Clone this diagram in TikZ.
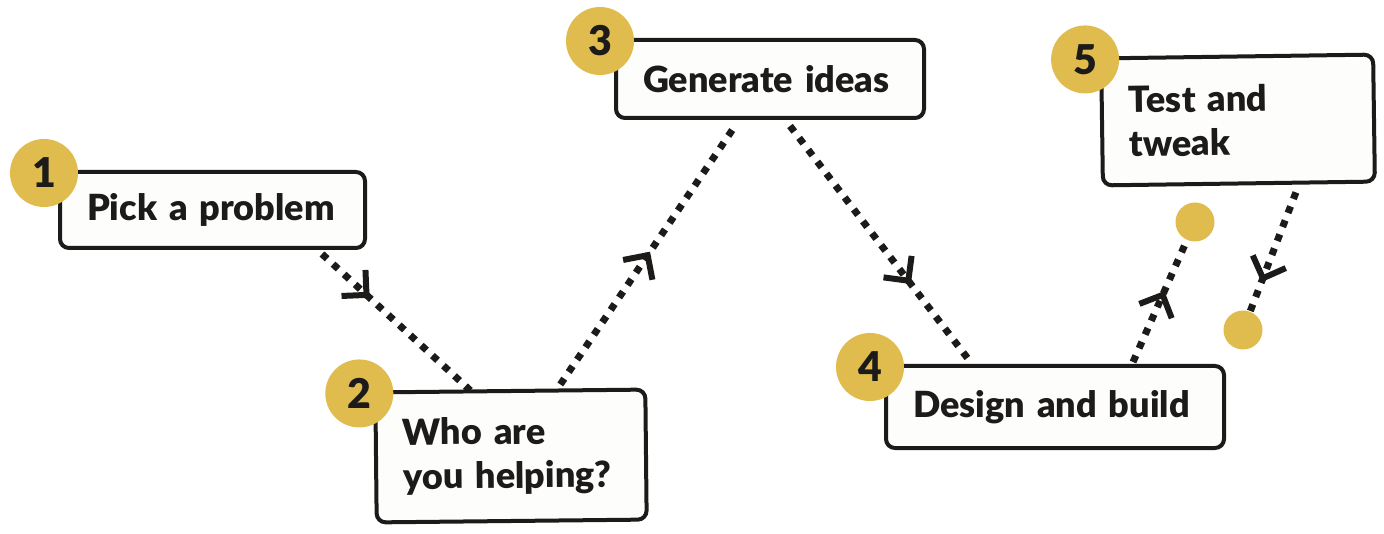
\documentclass[tikz,border=0pt]{standalone}
\usepackage{fontspec}
\setmainfont{Lato}[BoldFont={Lato Black}]
\usetikzlibrary{calc,backgrounds}
\definecolor{cGold}{HTML}{E0BC4E}
\definecolor{cInk}{HTML}{1C1B1A}
\definecolor{cPaper}{HTML}{FDFDFB}
\tikzset{
  font=\bfseries\fontsize{36}{44}\selectfont,
  stage/.style={draw=cInk, fill=cPaper, line width=4pt, rounded corners=9pt,
                align=left, inner xsep=27pt, inner ysep=0pt, text=cInk},
  badge/.style={circle, fill=cGold, minimum size=68pt, inner sep=0pt, text=cInk,
                font=\bfseries\fontsize{41}{41}\selectfont},
  spot/.style={circle, fill=cGold, minimum size=39pt, inner sep=0pt},
  flow/.style={draw=cInk, line width=7pt, dash pattern=on 7pt off 8pt},
  chevron/.style={draw=cInk, solid, line width=6pt, line join=miter, line cap=butt},
}
% open chevron on the way from #1 to #2, its tip at fraction #3
\newcommand\chev[3]{%
  \draw[chevron] ($($(#1)!#3!(#2)$)!25pt!45:(#1)$) -- ($(#1)!#3!(#2)$)
                 -- ($($(#1)!#3!(#2)$)!25pt!-45:(#1)$);}

\begin{document}
\begin{tikzpicture}[x=1pt, y=-1pt]
\useasboundingbox (0,0) rectangle (1384,534);

% ------------------------------------------------------------------ stages
\node[stage, anchor=north west, text width=251pt, minimum height=76pt] (pick) at (58,170) {Pick a problem};
\node[stage, text width=216pt, minimum height=130pt, rotate=0.6] (who) at (511,456) {Who are\\you helping?};
\node[stage, anchor=north west, text width=254pt, minimum height=78pt] (ideas) at (614,38) {Generate ideas};
\node[stage, anchor=north west, text width=284pt, minimum height=82pt] (build) at (884,364) {Design and build};
\node[stage, text width=218pt, minimum height=127pt, rotate=0.8] (tweak) at (1238,120) {Test and\\tweak};

% numbers on the corners
\node[badge] (n1) at ([xshift=-14pt, yshift=-3pt]pick.north west)  {1};
\node[badge] (n2) at ([xshift=-14pt, yshift=-3pt]who.north west)   {2};
\node[badge] (n3) at ([xshift=-14pt, yshift=-3pt]ideas.north west) {3};
\node[badge] (n4) at ([xshift=-14pt, yshift=-3pt]build.north west) {4};
\node[badge] (n5) at ([xshift=-14pt, yshift=-3pt]tweak.north west) {5};

% loose ends of the test loop
\node[spot] (dotA) at (1195,222) {};
\node[spot] (dotB) at (1243,330) {};

% ------------------------------------------------------------------ connectors
\coordinate (a1) at ([xshift=-45pt, yshift=-4pt]pick.south east);
\coordinate (a2) at ([xshift=97pt]who.north west);
\coordinate (b1) at ([xshift=187pt, yshift=6pt]who.north west);
\coordinate (b2) at ([xshift=121pt, yshift=-6pt]ideas.south west);
\coordinate (c1) at ([xshift=176pt, yshift=-6pt]ideas.south west);
\coordinate (c2) at ([xshift=88pt]build.north west);
\coordinate (d1) at ([xshift=249pt, yshift=2pt]build.north west);
\coordinate (d2) at (dotA.246);
\coordinate (e1) at ([xshift=195pt, yshift=-5pt]tweak.south west);
\coordinate (e2) at (dotB.69);

\begin{scope}[on background layer]
  \draw[flow] (a1) -- (a2);  \chev{a1}{a2}{0.3}
  \draw[flow] (b1) -- (b2);  \chev{b1}{b2}{0.5}
  \draw[flow] (c1) -- (c2);  \chev{c1}{c2}{0.65}
  \draw[flow] (d1) -- (d2);  \chev{d1}{d2}{0.55}
  \draw[flow] (e1) -- (e2);  \chev{e1}{e2}{0.72}
\end{scope}

\end{tikzpicture}
\end{document}
